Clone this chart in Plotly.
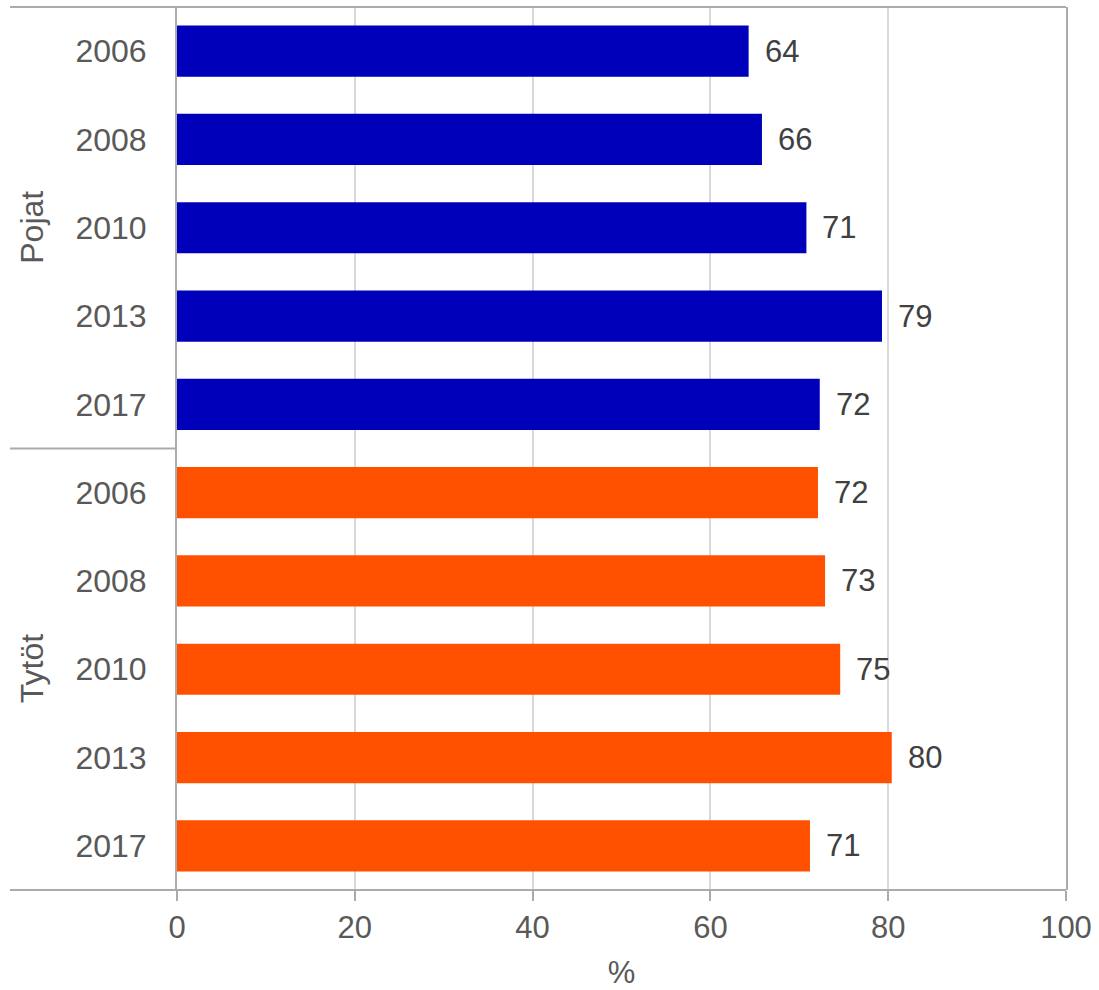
import plotly.graph_objects as go

groups = ["Pojat", "Tytöt"]
years = ["2006", "2008", "2010", "2013", "2017"]
pojat = [64.3, 65.8, 70.8, 79.3, 72.3]
tytot = [72.1, 72.9, 74.6, 80.4, 71.2]
colors = {"Pojat": "#0000BB", "Tytöt": "#FF5000"}
x_ticks = [0, 20, 40, 60, 80, 100]

FONT = "Liberation Sans, Arial, sans-serif"

fig = go.Figure()
series = {"Pojat": pojat, "Tytöt": tytot}
pos = 0
tickvals, ticktext = [], []
for g in groups:
    ys = list(range(pos, pos + len(years)))
    vals = series[g]
    fig.add_trace(go.Bar(
        orientation="h", y=ys, x=vals,
        marker=dict(color=colors[g], line=dict(width=0)),
        showlegend=False, hoverinfo="skip",
    ))
    for yv, v in zip(ys, vals):
        fig.add_annotation(x=v, y=yv, xref="x", yref="y", text=f"{round(v)}", showarrow=False,
                           xanchor="left", yanchor="middle", xshift=14,
                           font=dict(size=31, color="#404040", family=FONT))
    tickvals += ys
    ticktext += years
    pos += len(years)

n = pos
line_col = "#ABABAB"
fig.update_layout(
    width=1099, height=990,
    margin=dict(l=177, r=33, t=7, b=100, autoexpand=False),
    plot_bgcolor="white", paper_bgcolor="white",
    bargap=0.42,
    font=dict(family=FONT, size=32, color="#595959"),
    xaxis=dict(
        range=[0, 100], tickvals=x_ticks, showgrid=True, gridcolor="#D9D9D9", gridwidth=1.5,
        zeroline=False, showline=False, ticks="outside", ticklen=10, tickwidth=2, tickcolor=line_col,
        tickfont=dict(size=31, color="#595959"), automargin=False,
        title=dict(text="%", font=dict(size=31, color="#595959"), standoff=18),
    ),
    yaxis=dict(
        range=[n - 0.5, -0.5], tickvals=tickvals, ticktext=ticktext, automargin=False,
        showgrid=False, zeroline=False, showline=True, mirror=True, linecolor=line_col, linewidth=2,
        ticks="", ticklabelstandoff=22, tickfont=dict(size=32, color="#595959"),
    ),
)

# top and bottom border lines extending left across group label area
x0 = (10 - 177) / 889
for yv in [1, 0]:
    fig.add_shape(type="line", xref="paper", yref="paper", x0=x0, x1=1, y0=yv, y1=yv,
                  line=dict(color=line_col, width=2))
# separator between groups
fig.add_shape(type="line", xref="paper", yref="y", x0=x0, x1=0, y0=len(years) - 0.5, y1=len(years) - 0.5,
              line=dict(color=line_col, width=2))

for i, g in enumerate(groups):
    center = i * len(years) + (len(years) - 1) / 2
    fig.add_annotation(text=g, xref="paper", yref="y", x=(32 - 177) / 889, y=center,
                       textangle=-90, showarrow=False, font=dict(size=32, color="#595959"),
                       xanchor="center", yanchor="middle")

fig.write_html("out.html")
